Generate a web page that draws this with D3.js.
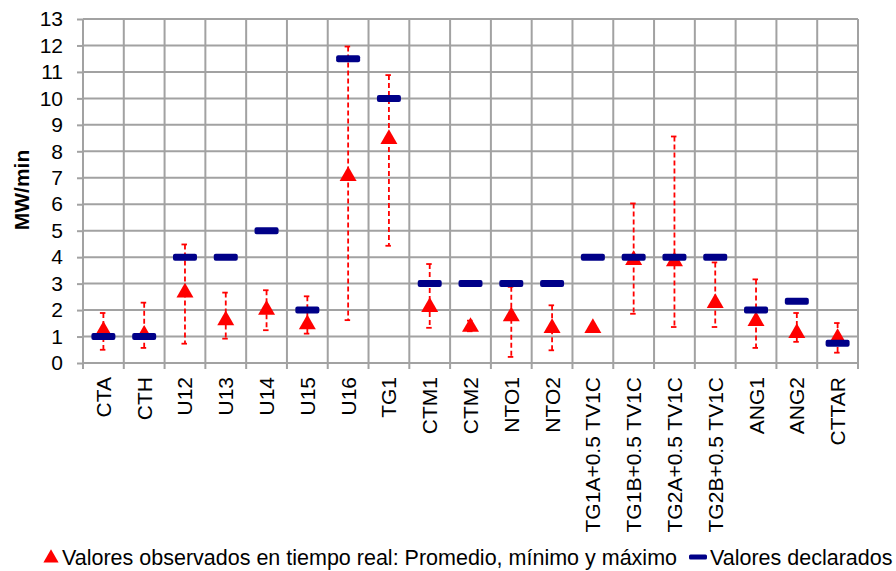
<!DOCTYPE html>
<html>
<head>
<meta charset="utf-8">
<script src="https://cdn.jsdelivr.net/npm/d3@7"></script>
<style>
  body { margin: 0; background: #fff; }
  svg { display: block; font-family: "Liberation Sans", Arial, sans-serif; }
</style>
</head>
<body>
<svg id="chart" width="896" height="571"></svg>
<script>
//
// Data
//
const categories = ["CTA", "CTH", "U12", "U13", "U14", "U15", "U16", "TG1", "CTM1", "CTM2",
  "NTO1", "NTO2", "TG1A+0.5 TV1C", "TG1B+0.5 TV1C", "TG2A+0.5 TV1C", "TG2B+0.5 TV1C",
  "ANG1", "ANG2", "CTTAR"];
// observed: average, minimum, maximum
const observedAvg = [1.25, 1.1, 2.7, 1.65, 2.05, 1.5, 7.1, 8.5, 2.15, 1.4,
  1.8, 1.36, 1.36, 3.93, 3.88, 2.3, 1.62, 1.17, 0.98];
const observedMin = [0.5, 0.57, 0.73, 0.92, 1.24, 1.11, 1.62, 4.43, 1.33, 1.2,
  0.23, 0.48, 1.36, 1.86, 1.36, 1.36, 0.57, 0.8, 0.39];
const observedMax = [1.89, 2.28, 4.48, 2.66, 2.75, 2.52, 11.96, 10.88, 3.74, 1.6,
  2.88, 2.18, 1.36, 6.03, 8.56, 3.8, 3.16, 1.89, 1.51];
// declared
const declared = [1, 1, 4, 4, 5, 2, 11.5, 10, 3, 3,
  3, 3, 4, 4, 4, 4, 2, 2.33, 0.75];
const yTicks = d3.range(0, 14);

const legendObserved = "Valores observados en tiempo real: Promedio, mínimo y máximo";
const legendDeclared = "Valores declarados";

//
// Layout
//
const svg = d3.select("#chart");
const margin = { left: 83, right: 38, top: 19, bottom: 208 };
const width = 896, height = 571;
const gridColor = "#a2a2a2";
const red = "#ff0000";
const navy = "#000088";

const x = d3.scaleBand()
  .domain(categories)
  .range([margin.left, width - margin.right]);
const y = d3.scaleLinear()
  .domain([0, 13])
  .range([height - margin.bottom, margin.top]);

// horizontal gridlines + y ticks
svg.append("g")
  .attr("transform", "translate(" + margin.left + ",0)")
  .call(d3.axisLeft(y).tickValues(yTicks).tickSize(6).tickPadding(14).tickFormat(d3.format("d")))
  .call(g => g.select(".domain").remove())
  .call(g => g.selectAll("line").attr("stroke", gridColor).attr("stroke-width", 2))
  .call(g => g.selectAll("text").attr("font-size", 21).attr("fill", "#000")
    .attr("font-family", "Liberation Sans, Arial, sans-serif"));

svg.append("g")
  .selectAll("line")
  .data(yTicks)
  .join("line")
  .attr("x1", margin.left)
  .attr("x2", width - margin.right)
  .attr("y1", d => y(d))
  .attr("y2", d => y(d))
  .attr("stroke", gridColor)
  .attr("stroke-width", 2);

// vertical gridlines at band edges
const edges = categories.map(c => x(c)).concat([width - margin.right]);
svg.append("g")
  .selectAll("line")
  .data(edges)
  .join("line")
  .attr("x1", d => d)
  .attr("x2", d => d)
  .attr("y1", margin.top)
  .attr("y2", y(0) + 6)
  .attr("stroke", gridColor)
  .attr("stroke-width", 2);

// x labels (rotated)
svg.append("g")
  .selectAll("text")
  .data(categories)
  .join("text")
  .attr("transform", d => "translate(" + (x(d) + x.bandwidth() / 2 + 7.5) + "," + (y(0) + 14) + ") rotate(-90)")
  .attr("text-anchor", "end")
  .attr("font-size", 21)
  .text(d => d);

// y axis title
svg.append("text")
  .attr("transform", "translate(29," + 190 + ") rotate(-90)")
  .attr("text-anchor", "middle")
  .attr("font-size", 21)
  .attr("font-weight", "bold")
  .text("MW/min");

//
// Marks
//
const cx = i => x(categories[i]) + x.bandwidth() / 2;
const idx = d3.range(categories.length);
const ranged = idx.filter(i => observedMax[i] > observedMin[i]);

// error bars
const err = svg.append("g").attr("stroke", red).attr("stroke-width", 1.8);
err.selectAll("line.bar")
  .data(ranged)
  .join("line")
  .attr("class", "bar")
  .attr("x1", cx).attr("x2", cx)
  .attr("y1", i => y(observedMax[i]))
  .attr("y2", i => y(observedMin[i]))
  .attr("stroke-dasharray", "5,3");
err.selectAll("line.capTop")
  .data(ranged)
  .join("line")
  .attr("class", "capTop")
  .attr("x1", i => cx(i) - 3.5).attr("x2", i => cx(i) + 2)
  .attr("y1", i => y(observedMax[i])).attr("y2", i => y(observedMax[i]));
err.selectAll("line.capBot")
  .data(ranged)
  .join("line")
  .attr("class", "capBot")
  .attr("x1", i => cx(i) - 3.5).attr("x2", i => cx(i) + 2)
  .attr("y1", i => y(observedMin[i])).attr("y2", i => y(observedMin[i]));

// triangles (average)
const tri = d3.symbol().type(d3.symbolTriangle).size(125);
svg.append("g")
  .selectAll("path")
  .data(idx)
  .join("path")
  .attr("d", tri)
  .attr("transform", i => "translate(" + cx(i) + "," + (y(observedAvg[i]) + 1) + ")")
  .attr("fill", red);

// declared markers
svg.append("g")
  .selectAll("rect")
  .data(idx)
  .join("rect")
  .attr("x", i => cx(i) - 12)
  .attr("y", i => y(declared[i]) - 3.5)
  .attr("width", 24)
  .attr("height", 7)
  .attr("rx", 2)
  .attr("fill", navy);

//
// Legend
//
const legY = 557;
svg.append("path")
  .attr("d", d3.symbol().type(d3.symbolTriangle).size(100))
  .attr("transform", "translate(51," + (legY + 1) + ")")
  .attr("fill", red);
svg.append("text")
  .attr("x", 62)
  .attr("y", legY + 7.5)
  .attr("font-size", 21.5)
  .text(legendObserved);
svg.append("rect")
  .attr("x", 689)
  .attr("y", legY - 2.5)
  .attr("width", 18)
  .attr("height", 5)
  .attr("rx", 1.5)
  .attr("fill", navy);
svg.append("text")
  .attr("x", 710)
  .attr("y", legY + 7.5)
  .attr("font-size", 21.5)
  .text(legendDeclared);
</script>
</body>
</html>
